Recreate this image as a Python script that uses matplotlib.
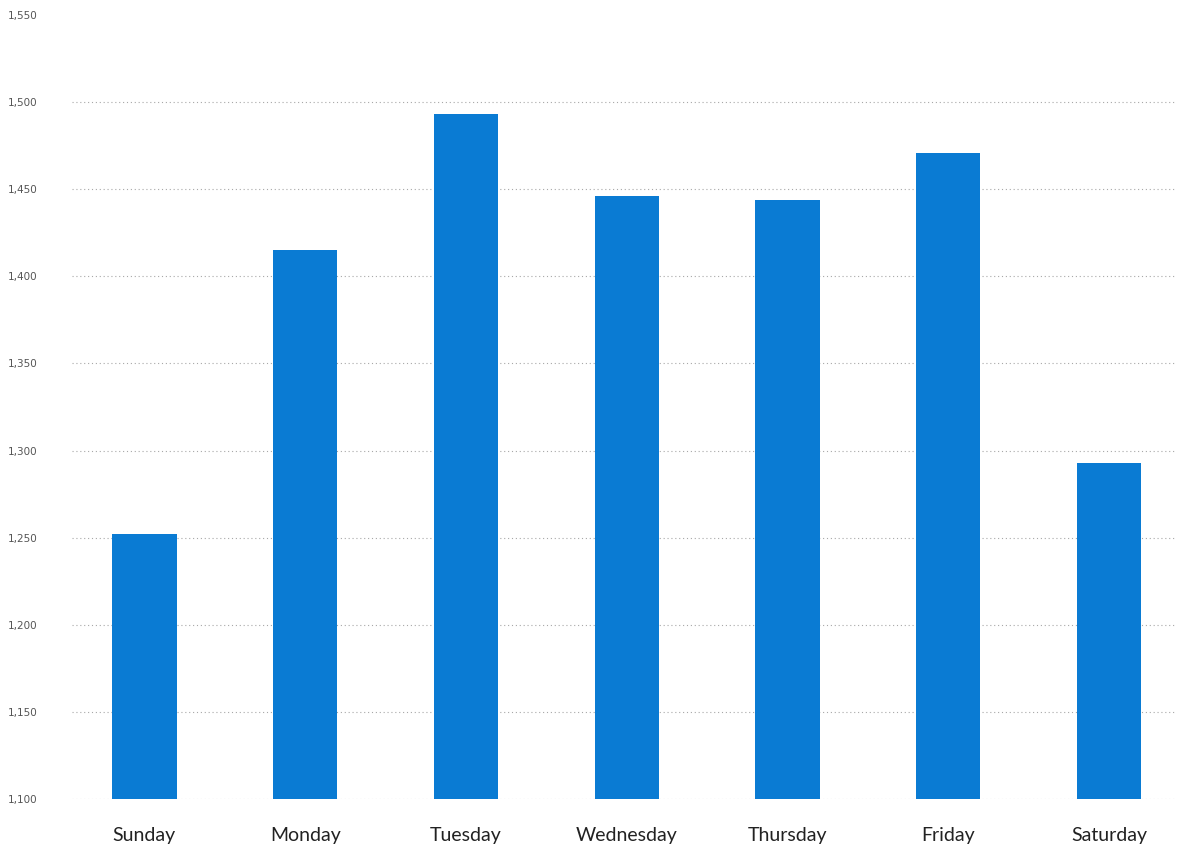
import matplotlib.pyplot as plt
from matplotlib.ticker import FuncFormatter

days = ['Sunday', 'Monday', 'Tuesday', 'Wednesday', 'Thursday', 'Friday', 'Saturday']
counts = [1252, 1415, 1493, 1446, 1444, 1471, 1293]
y_ticks = [1100, 1150, 1200, 1250, 1300, 1350, 1400, 1450, 1500, 1550]

fig = plt.figure(figsize=(11.78, 8.52), dpi=100)
ax = fig.add_axes([72 / 1178, 53 / 852, (1175 - 72) / 1178, 784 / 852])

ax.bar(range(len(days)), counts, width=0.40, color='#0A7BD3', zorder=2)

ax.set_ylim(1100, 1550)
ax.set_xlim(-0.45, 6.41)
ax.set_yticks(y_ticks)
ax.yaxis.set_major_formatter(FuncFormatter(lambda v, p: f'{int(v):,}'))
ax.set_xticks(range(len(days)))
ax.set_xticklabels(days, fontsize=14, family='Lato', color='#222222')

ax.grid(axis='y', linestyle=(0, (1, 2.5)), color='#a8a8a8', linewidth=0.8, zorder=0)
ax.tick_params(axis='y', length=0, labelsize=7.5, labelcolor='#555555', pad=46)
ax.tick_params(axis='x', length=0, pad=20)
for lbl in ax.get_yticklabels():
    lbl.set_horizontalalignment('left')
for spine in ax.spines.values():
    spine.set_visible(False)

# hide the top gridline, only the label shows there
ax.get_ygridlines()[-1].set_visible(False)

fig.savefig('out.png', dpi=100)
